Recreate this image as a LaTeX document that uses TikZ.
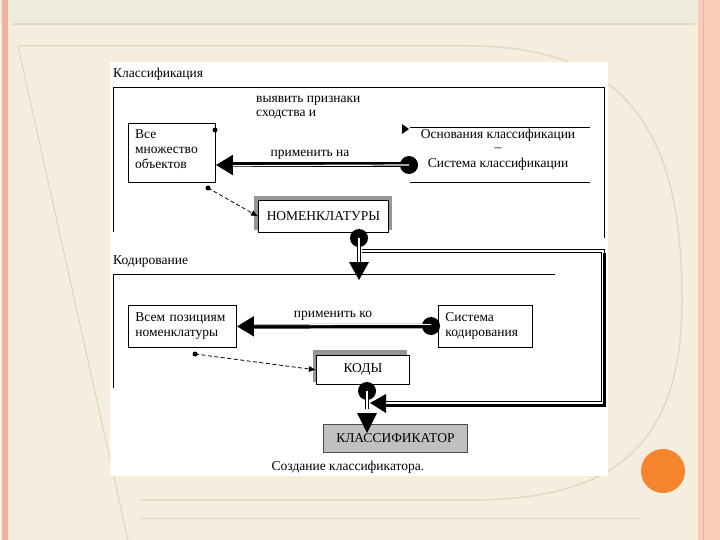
\documentclass[tikz,border=0pt]{standalone}
\usepackage{fontspec}
\setmainfont{Liberation Serif}
\usetikzlibrary{arrows.meta}
\definecolor{bgcream}{RGB}{245,238,223}
\definecolor{bgtop}{RGB}{238,236,220}
\definecolor{decoline}{RGB}{226,216,196}
\definecolor{salmon}{RGB}{243,178,158}
\definecolor{salmonlight}{RGB}{250,205,185}
\definecolor{dotorange}{RGB}{246,132,46}
\definecolor{shadowgray}{RGB}{150,150,150}
\definecolor{klgray}{RGB}{192,192,192}
\tikzset{
  txt/.style={font=\fontsize{13.5}{15}\selectfont, inner sep=0pt},
  plainbox/.style={draw, fill=white, line width=0.8pt, inner sep=0pt, align=left,
    font=\fontsize{13.5}{15}\selectfont},
  bigdot/.style={circle, fill=black, minimum size=18pt, inner sep=0pt},
  smalldot/.style={circle, fill=black, minimum size=5pt, inner sep=0pt},
  bigtip/.style={-{Triangle[length=17pt,width=19pt]}},
  framel/.style={line width=0.8pt},
  dashconn/.style={dash pattern=on 4pt off 2.5pt, line width=0.8pt, -{Latex[length=7pt,width=6pt]}},
}
\begin{document}
\begin{tikzpicture}[x=1pt,y=-1pt]
\useasboundingbox (0,0) rectangle (720,540);
% ---------- slide background ----------
\fill[bgcream] (0,0) rectangle (720,540);
\fill[bgtop] (0,0) rectangle (700,22);
\draw[decoline, line width=1.2pt] (12,24) -- (695,24);
\draw[decoline, line width=1.5pt] (18,46) -- (470,46)
  .. controls (640,46) and (682,150) .. (682,300)
  .. controls (682,450) and (610,500) .. (470,500) -- (140,500);
\draw[decoline, line width=1.2pt] (18,46) -- (128,540);
\draw[decoline, line width=1.0pt] (140,518) -- (640,518);
\fill[salmon] (2,0) rectangle (8,540);
\fill[salmonlight] (698,0) rectangle (720,540);
\draw[salmon, line width=1pt] (703,0) -- (703,540);
\fill[dotorange] (663,471) circle (22);
% ---------- white panel ----------
\fill[white] (110,62) rectangle (608,476);
% ---------- Classification frame ----------
\node[txt, anchor=west] (tclass) at (113,74) {Классификация};
\draw[framel] (113,232) -- (113,87) -- (604,87) -- (604,238);
\node[txt, anchor=north west, align=left, font=\fontsize{13.5}{13.5}\selectfont] (tsim) at (256,96) {выявить признаки\\сходства и};
\node[plainbox, anchor=north west, minimum width=87pt, minimum height=59pt] (all) at (128,123) {};
\node[txt, anchor=north west, align=left] (allt) at (135,129) {Все\\множество\\объектов};
\node[smalldot] (c1) at (215,130) {};
% basis block
\draw[line width=0.8pt] (410,127) -- (590,127);
\draw[line width=0.8pt] (410,182) -- (590,182);
\fill (402,124) -- (409,129) -- (402,134) -- cycle;
\node[txt, align=center, font=\fontsize{13.5}{13}\selectfont] (osn) at (498,150)
  {Основания классификации\\–\\[3pt]Система классификации};
\node[bigdot] (d1) at (409,165) {};
\coordinate (e1) at (all.east |- d1);
\draw[bigtip, line width=5pt] (d1.center) -- (e1);
\draw[white, line width=1.2pt, shorten >=17pt] (d1.center) -- ([yshift=-0.8pt]e1);
\node[txt] (lapp1) at (310,155) {применить на};
% nomenclature
\fill[shadowgray] (254,196) rectangle (392,230);
\node[plainbox, anchor=north west, minimum width=130pt, minimum height=32pt, align=center]
  (nom) at (258,200) {НОМЕНКЛАТУРЫ};
\node[smalldot] (s1) at (208,188) {};
\draw[dashconn] (s1.center) -- (nom.west);
% ---------- connectors out of nomenclature ----------
\node[bigdot] (d2) at (359,238) {};
\coordinate (t2) at (359,280);
\draw[line width=1pt, double, double distance=2pt, shorten >=15pt] (d2.center) -- (t2);
\fill (349,262) -- (369,262) -- (t2) -- cycle;
\coordinate (r1) at (603,251);
\coordinate (r2) at (603,403);
\coordinate (t3) at (370,403);
\draw[line width=1pt, double, double distance=2pt] (362,251) -- (r1) -- (r2) -- (386,403);
\draw[line width=3pt] (604,253) -- (604,405) -- (386,405);
\fill (t3) -- (386,394) -- (386,413) -- cycle;
% ---------- Coding frame ----------
\node[txt, anchor=west] (tcod) at (113,262) {Кодирование};
\draw[framel] (113,388) -- (113,274) -- (555,274);
\node[plainbox, anchor=north west, minimum width=108pt, minimum height=42pt,
      text width=94pt, inner xsep=7pt] (pos) at (128,305) {Всем позициям\\номенклатуры};
\node[plainbox, anchor=north west, minimum width=94pt, minimum height=42pt,
      text width=80pt, inner xsep=7pt] (sys) at (438,305) {Система\\кодирования};
\node[bigdot] (d3) at (431,326) {};
\draw[bigtip, line width=4.5pt] (d3.center) -- (pos.east);
\draw[white, line width=0.8pt, shorten >=17pt] ([yshift=1.6pt]d3.center) -- ([yshift=1.6pt]pos.east);
\node[txt] (lapp2) at (333,316) {применить ко};
% codes
\fill[shadowgray] (313,350) rectangle (407,382);
\node[plainbox, anchor=north west, minimum width=93pt, minimum height=29pt, align=center]
  (kod) at (316,355) {КОДЫ};
\node[smalldot] (s2) at (195,354) {};
\draw[dashconn] (s2.center) -- (kod.west);
% classifier
\node[draw=black!70, fill=klgray, line width=0.8pt, anchor=north west, minimum width=144pt,
      minimum height=28pt, inner sep=0pt, font=\fontsize{13.5}{15}\selectfont] (kl) at (323,424) {КЛАССИФИКАТОР};
\node[bigdot] (d4) at (367,391) {};
\draw[line width=1pt, double, double distance=2pt, shorten >=15pt] (d4.center) -- (kl.north -| d4);
\fill (357,413) -- (377,413) -- (367,433) -- cycle;
\node[txt] (tcre) at (348,467) {Создание классификатора.};
\end{tikzpicture}
\end{document}
